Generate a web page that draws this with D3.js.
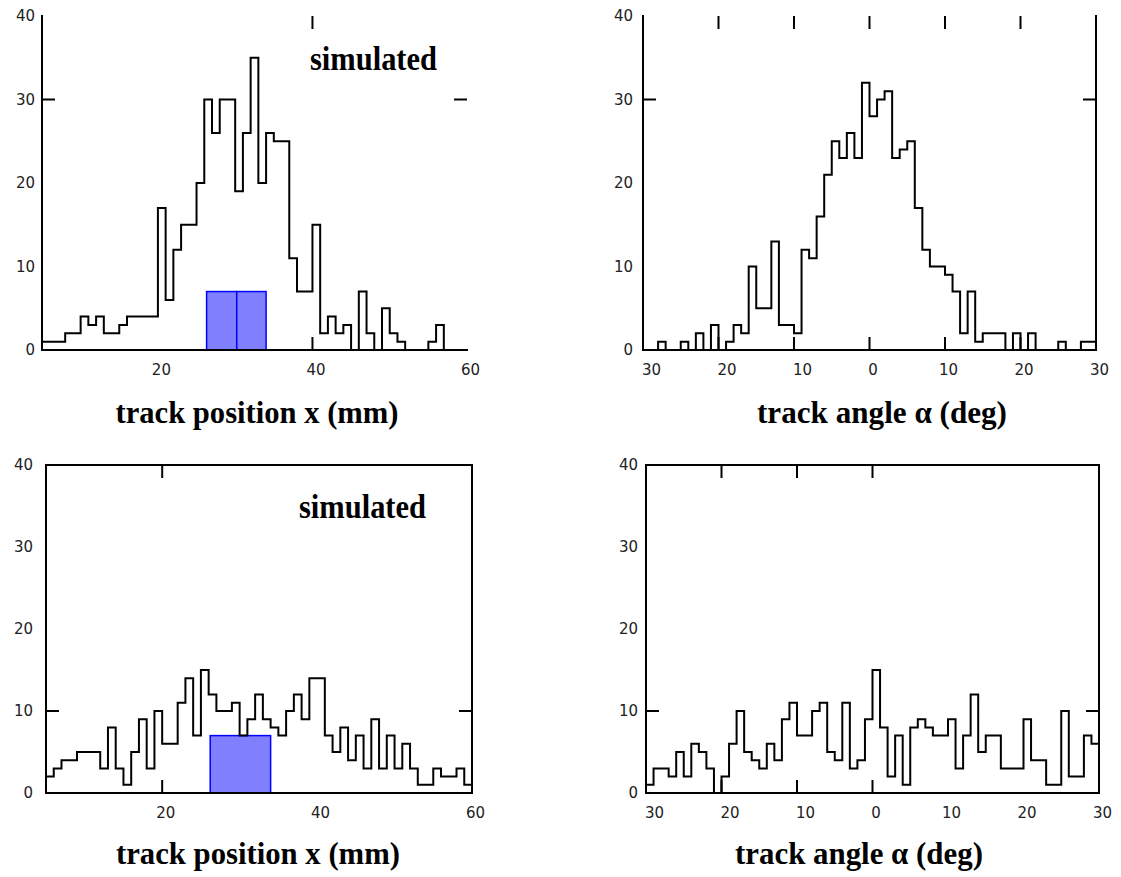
<!DOCTYPE html>
<html>
<head>
<meta charset="utf-8">
<script src="https://cdn.jsdelivr.net/npm/d3@7"></script>
<style>
  html, body { margin: 0; padding: 0; background: #fff; }
  svg { display: block; }
</style>
</head>
<body>
<svg id="chart" width="1121" height="877"></svg>
<script>
// track position histograms: counts per 1 mm bin, first bin starts at 5 mm
const posStart = 5;
const posCountsTop = [1, 1, 1, 2, 2, 4, 3, 4, 2, 2, 3, 4, 4, 4, 4, 17, 6, 12, 15, 15,
  20, 30, 26, 30, 30, 19, 26, 35, 20, 26, 25, 25, 11, 7, 7, 15, 2, 4, 2, 3,
  0, 7, 2, 0, 5, 2, 1, 0, 0, 0, 1, 3, 0, 0, 0];
const posCountsBottom = [2, 3, 4, 4, 5, 5, 5, 3, 8, 3, 1, 5, 9, 3, 10, 6, 6, 11, 14, 7,
  15, 12, 10, 10, 11, 7, 9, 12, 9, 8, 7, 10, 12, 9, 14, 14, 7, 5, 8, 4,
  7, 3, 9, 3, 7, 3, 6, 3, 1, 1, 3, 2, 2, 3, 1];

// track angle histograms: counts per 1 deg bin, first bin starts at -30 deg
const angStart = -30;
const angCountsTop = [0, 0, 1, 0, 0, 1, 0, 2, 0, 3, 0, 1, 3, 2, 10, 5, 5, 13, 3, 3,
  2, 12, 11, 16, 21, 25, 23, 26, 23, 32, 28, 30, 31, 23, 24, 25, 17, 12, 10, 10,
  9, 7, 2, 7, 1, 2, 2, 2, 0, 2, 0, 2, 0, 0, 0, 1, 0, 0, 1, 1];
const angCountsBottom = [1, 3, 3, 2, 5, 2, 6, 5, 3, 0, 2, 6, 10, 5, 4, 3, 6, 4, 9, 11,
  7, 7, 10, 11, 5, 4, 11, 3, 4, 9, 15, 8, 2, 7, 1, 8, 9, 8, 7, 7,
  9, 3, 7, 12, 5, 7, 7, 3, 3, 3, 9, 4, 4, 1, 1, 10, 2, 2, 7, 6];

// blue strips drawn under the position histograms (edges in mm, height in counts)
const stripEdgesTop = [26.3, 30.2, 34.0];
const stripEdgesBottom = [26.2, 34.0];
const stripHeight = 7;

const countTicks = [0, 10, 20, 30, 40];
const posTicks = [20, 40, 60];
const angTicks = [-30, -20, -10, 0, 10, 20, 30];

const svg = d3.select('#chart');
svg.append('rect').attr('width', 1121).attr('height', 877).attr('fill', '#fff');

const panels = [
  { left: 42, right: 467, top: 16, bottom: 350, xDomain: [5, 60], start: posStart,
    counts: posCountsTop, strips: stripEdgesTop, xTicks: posTicks, yPad: 7,
    sides: ['left', 'bottom'], xMarks: [40], yMarks: [30],
    title: 'track position x (mm)', titleX: 257, titleY: 423, titleW: 283,
    label: { x: 310, y: 70, w: 127 } },
  { left: 643, right: 1096, top: 16, bottom: 350, xDomain: [-30, 30], start: angStart,
    counts: angCountsTop, xTicks: angTicks, yPad: 10,
    sides: ['left', 'bottom', 'right'], xMarks: [-20, -10, 0, 10, 20], yMarks: [30],
    title: 'track angle α (deg)', titleX: 882, titleY: 423, titleW: 250 },
  { left: 46, right: 472, top: 465, bottom: 793, xDomain: [5, 60], start: posStart,
    counts: posCountsBottom, strips: stripEdgesBottom, xTicks: posTicks, yPad: 13,
    sides: ['left', 'bottom', 'right', 'top'], xMarks: [20], yMarks: [10],
    title: 'track position x (mm)', titleX: 258, titleY: 864, titleW: 284,
    label: { x: 299, y: 518, w: 127 } },
  { left: 646, right: 1099, top: 465, bottom: 793, xDomain: [-30, 30], start: angStart,
    counts: angCountsBottom, xTicks: angTicks, yPad: 8,
    sides: ['left', 'bottom', 'right', 'top'], xMarks: [-20, -10, 0], yMarks: [10],
    title: 'track angle α (deg)', titleX: 859, titleY: 864, titleW: 248 },
];

panels.forEach(drawPanel);

function drawPanel(p) {
  const x = d3.scaleLinear().domain(p.xDomain).range([p.left, p.right]);
  const y = d3.scaleLinear().domain([0, 40]).range([p.bottom, p.top]);
  const g = svg.append('g');

  if (p.strips) {
    g.selectAll('rect.strip')
      .data(d3.pairs(p.strips))
      .join('rect')
      .attr('class', 'strip')
      .attr('x', d => x(d[0]))
      .attr('width', d => x(d[1]) - x(d[0]))
      .attr('y', y(stripHeight))
      .attr('height', y(0) - y(stripHeight))
      .attr('fill', '#8080ff')
      .attr('stroke', '#0000ff')
      .attr('stroke-width', 1.5);
  }

  // histogram outline as a step line
  const pts = p.counts.map((c, i) => [p.start + i, c]);
  pts.push([p.start + p.counts.length, p.counts[p.counts.length - 1]]);
  const line = d3.line()
    .x(d => x(d[0]))
    .y(d => y(d[1]))
    .curve(d3.curveStepAfter);
  g.append('path')
    .attr('d', line(pts))
    .attr('fill', 'none')
    .attr('stroke', '#000')
    .attr('stroke-width', 2);

  // frame lines
  const sideLines = {
    left: [p.left, p.top, p.left, p.bottom],
    right: [p.right, p.top, p.right, p.bottom],
    top: [p.left, p.top, p.right, p.top],
    bottom: [p.left, p.bottom, p.right, p.bottom],
  };
  g.selectAll('line.frame')
    .data(p.sides.map(s => sideLines[s]))
    .join('line')
    .attr('class', 'frame')
    .attr('x1', d => d[0]).attr('y1', d => d[1])
    .attr('x2', d => d[2]).attr('y2', d => d[3])
    .attr('stroke', '#000')
    .attr('stroke-width', 2)
    .attr('stroke-linecap', 'square');

  // inward tick marks
  const tl = 13;
  const marks = [];
  p.xMarks.forEach(v => {
    marks.push([x(v), p.bottom, x(v), p.bottom - tl]);
    marks.push([x(v), p.top, x(v), p.top + tl]);
  });
  p.yMarks.forEach(v => {
    marks.push([p.left, y(v), p.left + tl, y(v)]);
    marks.push([p.right, y(v), p.right - tl, y(v)]);
  });
  g.selectAll('line.mark')
    .data(marks)
    .join('line')
    .attr('class', 'mark')
    .attr('x1', d => d[0]).attr('y1', d => d[1])
    .attr('x2', d => d[2]).attr('y2', d => d[3])
    .attr('stroke', '#000')
    .attr('stroke-width', 2);

  // tick labels
  const yAxis = g.append('g')
    .attr('transform', `translate(${p.left},0)`)
    .call(d3.axisLeft(y).tickValues(countTicks).tickSize(0).tickPadding(p.yPad));
  const xAxis = g.append('g')
    .attr('transform', `translate(0,${p.bottom})`)
    .call(d3.axisBottom(x).tickValues(p.xTicks).tickSize(0).tickPadding(14)
      .tickFormat(d => Math.abs(d)));
  xAxis.selectAll('text').attr('dx', d => (d < 0 ? 8 : 3));
  [yAxis, xAxis].forEach(a => {
    a.select('.domain').remove();
    a.selectAll('text')
      .attr('font-family', 'DejaVu Sans, sans-serif')
      .attr('font-size', 15)
      .attr('fill', '#222');
  });

  // axis title
  g.append('text')
    .attr('x', p.titleX)
    .attr('y', p.titleY)
    .attr('text-anchor', 'middle')
    .attr('font-family', 'Liberation Serif, serif')
    .attr('font-weight', 'bold')
    .attr('font-size', 31)
    .attr('textLength', p.titleW)
    .attr('lengthAdjust', 'spacingAndGlyphs')
    .text(p.title);

  if (p.label) {
    g.append('text')
      .attr('x', p.label.x)
      .attr('y', p.label.y)
      .attr('font-family', 'Liberation Serif, serif')
      .attr('font-weight', 'bold')
      .attr('font-size', 33)
      .attr('textLength', p.label.w)
      .attr('lengthAdjust', 'spacingAndGlyphs')
      .text('simulated');
  }
}
</script>
</body>
</html>
